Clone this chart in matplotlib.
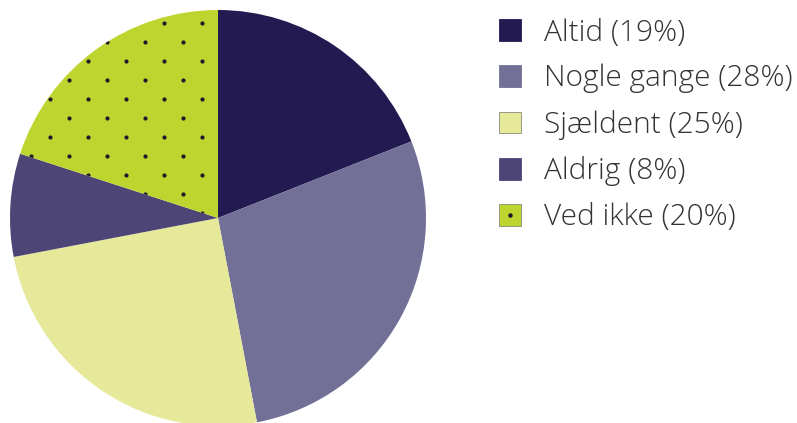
import numpy as np
import matplotlib.pyplot as plt
from matplotlib.patches import Patch
from matplotlib.lines import Line2D
from matplotlib.legend_handler import HandlerTuple

labels = ['Altid (19%)', 'Nogle gange (28%)', 'Sjældent (25%)', 'Aldrig (8%)', 'Ved ikke (20%)']
values = [19, 28, 25, 8, 20]
colors = ['#231a52', '#727096', '#e6e99a', '#4e4577', '#bed52f']
dot_color = '#1c1a2a'

plt.rcParams['font.family'] = ['Open Sans', 'DejaVu Sans']

fig = plt.figure(figsize=(7.97, 4.23), dpi=100)
# pie axes: circle centre ~ (218, 218) px, radius ~208 px
ax = fig.add_axes([10 / 797, (423 - 426) / 423, 416 / 797, 416 / 423])
wedges, _ = ax.pie(values, colors=colors, startangle=90, counterclock=False,
                   radius=1, wedgeprops=dict(linewidth=0))
ax.set_xlim(-1, 1)
ax.set_ylim(-1, 1)
ax.set_aspect('equal')
ax.axis('off')

# dotted pattern on "Ved ikke"
step = 19 / 208
gx, gy = np.meshgrid(np.arange(-12, 12), np.arange(-12, 12))
keep = (gx + gy) % 2 == 0
px = (gx[keep] - 0.84) * step
py = (gy[keep] + 0.26) * step
dots = ax.scatter(px, py, s=4, color=dot_color, zorder=3)
dots.set_clip_path(wedges[4])

handles = [Patch(facecolor=c, edgecolor='#8a8a7a' if i in (2, 4) else c, linewidth=0.6)
           for i, c in enumerate(colors)]
handles[4] = (handles[4], Line2D([], [], marker='o', ms=2.2, color=dot_color, ls=''))
fig.legend(handles, labels, loc='upper left', bbox_to_anchor=(499 / 797, 1 - 18 / 423),
           frameon=False, prop=dict(size=21.5, weight='light'),
           handlelength=0.74, handleheight=0.74,
           handletextpad=0.76, labelspacing=0.55, borderpad=0, borderaxespad=0,
           labelcolor='#333333', handler_map={tuple: HandlerTuple(ndivide=1)})

fig.savefig('out.png', dpi=100)
